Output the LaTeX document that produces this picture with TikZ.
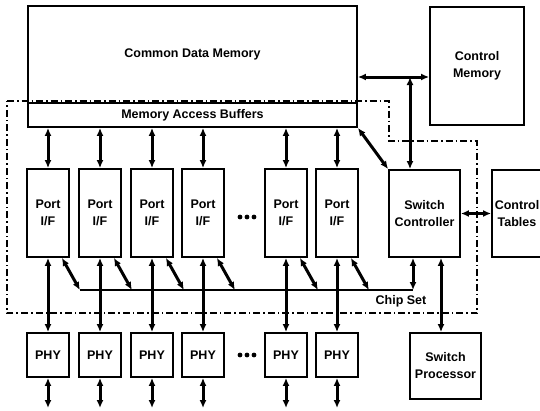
\documentclass[tikz,border=0pt]{standalone}
\usepackage{fontspec}
\setmainfont{Liberation Sans}
\usetikzlibrary{arrows.meta}

\begin{document}
\begin{tikzpicture}[x=1pt, y=-1pt,
    every node/.style={font=\bfseries\fontsize{12.5}{17}\selectfont},
    box/.style={draw, line width=1.8pt, align=center, inner sep=0pt},
    port/.style={box, minimum width=42pt, minimum height=88pt},
    phy/.style={box, minimum width=42pt, minimum height=44pt},
    link/.style={line width=3pt, {Latex[length=8pt,width=7pt]}-{Latex[length=8pt,width=7pt]}},
    chipline/.style={line width=1.3pt, dash pattern=on 7pt off 3pt on 1.5pt off 3pt}]
  \useasboundingbox (0,0) rectangle (540,410);
  % chip set boundary
  \draw[chipline] (7,101) -- (389,101) -- (389,141) -- (477,141) -- (477,313) -- (7,313) -- cycle;
  \node[font=\bfseries\fontsize{12.5}{14}\selectfont] (chipset) at (401,301) {Chip Set};

  \node[box, minimum width=329pt, minimum height=97pt] (cdm) at (192.5,54.5) {Common Data Memory};
  \node[box, minimum width=329pt, minimum height=24pt] (mab) at (192.5,115) {Memory Access Buffers};
  \node[box, minimum width=94pt, minimum height=118pt] (cm) at (477,66) {Control\\Memory};
  \node[box, minimum width=71pt, minimum height=87pt] (sc) at (424.5,213.5) {Switch\\Controller};
  \node[box, minimum width=50pt, minimum height=87pt] (ct) at (517,213.5) {Control\\Tables};
  \node[box, minimum width=71pt, minimum height=66pt] (sp) at (445.5,366) {Switch\\Processor};

  \coordinate (tap) at (410,77);
  \coordinate (busL) at (80,290);
  \coordinate (busR) at (413,290);
  \coordinate (bottom) at (0,408);

  % ports and PHYs
  \foreach \i/\x in {1/48, 2/100, 3/152, 4/203, 5/286, 6/337} {
    \node[port] (port\i) at (\x,213) {Port\\I/F};
    \node[phy] (phy\i) at (\x,355) {PHY};
    \draw[link] (port\i.north) -- (port\i.north |- mab.south);
    \draw[link] (port\i.south) -- (phy\i.north);
    \draw[link] (phy\i.south) -- (phy\i.south |- bottom);
    \draw[link] ([xshift=-8pt]port\i.south east) -- ([xshift=10pt]port\i.south east |- busL);
  }
  \foreach \y in {217, 355}
    \foreach \d in {-7, 0, 7}
      \fill (247+\d,\y) circle (2.4pt);

  \draw[line width=2.4pt] (busL) -- (busR);
  \draw[link] (busR) -- (busR |- sc.south);
  \draw[link] ([xshift=16.5pt]sc.south) -- ([xshift=-4.5pt]sp.north);
  \draw[link] (sc.east) -- (ct.west);
  \draw[link] (cdm.east |- tap) -- (cm.west |- tap);
  \draw[link] (tap) -- (tap |- sc.north);
  \draw[link] (mab.south east) -- (sc.north west);
\end{tikzpicture}
\end{document}
